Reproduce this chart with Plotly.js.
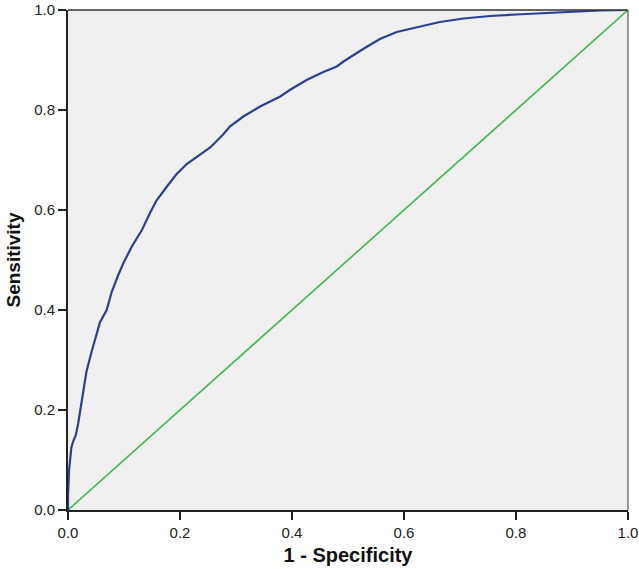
<!DOCTYPE html>
<html>
<head>
<meta charset="utf-8">
<script src="https://cdn.plot.ly/plotly-3.0.1.min.js"></script>
<style>html,body{margin:0;padding:0;background:#fff;}#chart{width:639px;height:569px;}</style>
</head>
<body>
<div id="chart"></div>
<script>
// ROC curve
var fpr = [0, 0.000, 0.002, 0.006, 0.0095, 0.014, 0.018, 0.024, 0.033, 0.042, 0.050, 0.057, 0.069, 0.078, 0.089, 0.099, 0.114, 0.132, 0.146, 0.158, 0.176, 0.194, 0.212, 0.236, 0.254, 0.277, 0.289, 0.313, 0.343, 0.379, 0.396, 0.426, 0.456, 0.480, 0.492, 0.527, 0.557, 0.587, 0.623, 0.664, 0.706, 0.754, 0.800, 0.850, 0.900, 0.950, 1.0];
var tpr = [0, 0.030, 0.080, 0.125, 0.138, 0.150, 0.172, 0.217, 0.277, 0.316, 0.350, 0.375, 0.400, 0.436, 0.468, 0.494, 0.527, 0.560, 0.593, 0.619, 0.646, 0.672, 0.692, 0.711, 0.725, 0.751, 0.767, 0.787, 0.807, 0.827, 0.840, 0.860, 0.876, 0.887, 0.897, 0.922, 0.942, 0.956, 0.965, 0.976, 0.983, 0.988, 0.991, 0.994, 0.997, 0.999, 1.0];
var refX = [0, 1];
var refY = [0, 1];
var tickVals = [0, 0.2, 0.4, 0.6, 0.8, 1.0];
var tickText = ['0.0', '0.2', '0.4', '0.6', '0.8', '1.0'];

var traces = [
  {x: refX, y: refY, mode: 'lines', line: {color: '#3cb94a', width: 1.6}, hoverinfo: 'skip'},
  {x: fpr, y: tpr, mode: 'lines', line: {color: '#2b3f97', width: 2.2, shape: 'linear'}, hoverinfo: 'skip'}
];

var axisCommon = {
  range: [0, 1],
  tickvals: tickVals,
  ticktext: tickText,
  ticks: 'outside',
  ticklen: 8,
  tickwidth: 1.5,
  tickcolor: '#222',
  showline: true,
  linecolor: '#222',
  linewidth: 2,
  showgrid: false,
  zeroline: false,
  ticklabeloverflow: 'allow',
  tickfont: {family: 'Liberation Sans, Arial, sans-serif', size: 15, color: '#222'},
  fixedrange: true
};

var layout = {
  width: 639,
  height: 569,
  margin: {l: 68, r: 11, t: 10, b: 59},
  paper_bgcolor: '#ffffff',
  plot_bgcolor: '#f0f0f0',
  showlegend: false,
  xaxis: Object.assign({}, axisCommon, {
    title: {text: '1 - Specificity', font: {family: 'Liberation Sans, Arial, sans-serif', size: 20, color: '#111', weight: 'bold'}, standoff: 8}
  }),
  yaxis: Object.assign({}, axisCommon, {
    title: {text: 'Sensitivity', font: {family: 'Liberation Sans, Arial, sans-serif', size: 19, color: '#111', weight: 'bold'}, standoff: 8}
  }),
  shapes: [
    {type: 'line', xref: 'paper', yref: 'paper', x0: 0, x1: 1, y0: 1, y1: 1, line: {color: '#333', width: 1.5}},
    {type: 'line', xref: 'paper', yref: 'paper', x0: 1, x1: 1, y0: 0, y1: 1, line: {color: '#777', width: 1.5}}
  ]
};

Plotly.newPlot('chart', traces, layout, {displayModeBar: false, staticPlot: true});
</script>
</body>
</html>
